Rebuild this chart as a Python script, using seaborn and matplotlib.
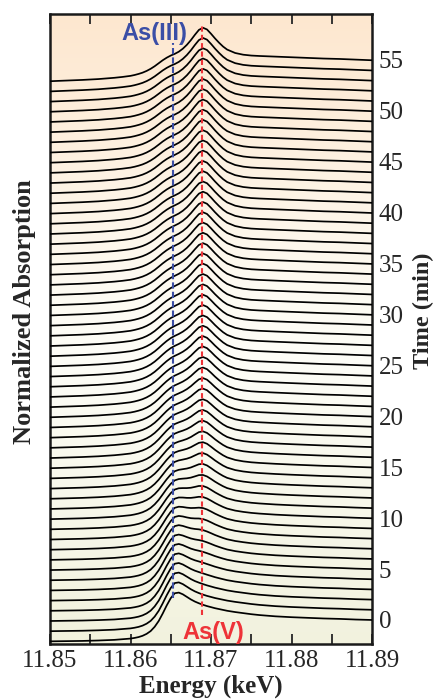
import numpy as np
import pandas as pd
import matplotlib
matplotlib.use("Agg")
import matplotlib.pyplot as plt
import seaborn as sns
from matplotlib.colors import LinearSegmentedColormap
from matplotlib.ticker import FixedLocator, MultipleLocator

# ---------------- data ----------------
energy = [11.850, 11.852, 11.854, 11.856, 11.858, 11.859, 11.860, 11.8605,
          11.861, 11.8615, 11.862, 11.8625, 11.863, 11.8635, 11.864, 11.8645,
          11.865, 11.8655, 11.866, 11.8665, 11.867, 11.8675, 11.868, 11.8685,
          11.869, 11.8695, 11.870, 11.8705, 11.871, 11.8715, 11.872, 11.873,
          11.874, 11.875, 11.876, 11.878, 11.880, 11.882, 11.884, 11.886,
          11.888, 11.890]

# normalized absorption of the first spectrum (As(III)-like)
mu_as3 = [0.00, 0.01, 0.02, 0.04, 0.07, 0.10, 0.13, 0.16,
          0.20, 0.26, 0.35, 0.48, 0.68, 0.95, 1.30, 1.68,
          2.02, 2.25, 2.28, 2.20, 2.08, 1.96, 1.86, 1.78,
          1.71, 1.65, 1.60, 1.55, 1.51, 1.47, 1.43, 1.37,
          1.32, 1.27, 1.23, 1.17, 1.13, 1.10, 1.07, 1.05,
          1.02, 1.00]

# normalized absorption of the last spectrum (As(V)-like)
mu_as5 = [0.00, 0.03, 0.06, 0.10, 0.16, 0.20, 0.25, 0.29,
          0.34, 0.40, 0.48, 0.58, 0.70, 0.84, 0.98, 1.10,
          1.20, 1.28, 1.38, 1.52, 1.70, 1.92, 2.17, 2.40,
          2.50, 2.42, 2.22, 2.00, 1.80, 1.62, 1.48, 1.32,
          1.24, 1.20, 1.18, 1.15, 1.12, 1.09, 1.06, 1.04,
          1.01, 0.98]

time_min = list(range(56))
# fraction of As(V) in each spectrum, estimated per minute
frac_as5 = [0.00, 0.00, 0.02, 0.05, 0.08, 0.12, 0.16, 0.20, 0.25, 0.30,
            0.35, 0.40, 0.45, 0.50, 0.54, 0.58, 0.62, 0.65, 0.68, 0.71,
            0.74, 0.76, 0.78, 0.80, 0.82, 0.83, 0.84, 0.85, 0.86, 0.87,
            0.88, 0.89, 0.90, 0.90, 0.91, 0.92, 0.92, 0.93, 0.93, 0.94,
            0.94, 0.95, 0.95, 0.96, 0.96, 0.96, 0.97, 0.97, 0.97, 0.98,
            0.98, 0.98, 0.99, 0.99, 1.00, 1.00]

time_ticks = [0, 5, 10, 15, 20, 25, 30, 35, 40, 45, 50, 55]
energy_ticks = [11.85, 11.86, 11.87, 11.88, 11.89]
as3_energy = 11.8653
as5_energy = 11.8689

# ---------------- build long table ----------------
rows = []
for t, a in zip(time_min, frac_as5):
    for e, m3, m5 in zip(energy, mu_as3, mu_as5):
        rows.append({"energy": e, "time": t, "mu": (1 - a) * m3 + a * m5})
df = pd.DataFrame(rows)
STEP = 2.1  # vertical size of one absorption unit, in minutes
df["y"] = df["time"] - STEP + STEP * df["mu"]

# ---------------- figure ----------------
sns.set_style("ticks")
plt.rcParams["font.family"] = ["Liberation Serif", "DejaVu Serif"]

W, H = 436, 699
fig = plt.figure(figsize=(W / 100, H / 100), dpi=100)
ax = fig.add_axes([50 / W, 1 - 644 / H, 322 / W, 630 / H])
xmin, xmax = 11.85, 11.89
ymin, ymax = -2.36, 59.5
ax.set_xlim(xmin, xmax)
ax.set_ylim(ymin, ymax)

# background gradient
cmap = LinearSegmentedColormap.from_list(
    "bg", [(0.0, "#f2f2de"), (0.45, "#fdfdf7"), (0.55, "#fefbf3"), (1.0, "#fde7cf")])
grad = np.linspace(0, 1, 256).reshape(-1, 1)
ax.imshow(grad, extent=[xmin, xmax, ymin, ymax], origin="lower",
          aspect="auto", cmap=cmap, zorder=0)

sns.lineplot(data=df, x="energy", y="y", units="time", estimator=None,
             color="black", linewidth=1.25, sort=False, legend=False, ax=ax,
             zorder=3)

# reference lines
ax.vlines(as3_energy, 2.2, 56.7, colors="#3b4ea6", linestyles=(0, (3, 1.5)),
          linewidth=1.5, zorder=4)
ax.vlines(as5_energy, 0.5, 58.3, colors="#ee3338", linestyles=(0, (2.5, 1.5)),
          linewidth=1.5, zorder=4)
ax.text(11.8630, 57.6, "As(III)", color="#3b4ea6", fontsize=17,
        fontweight="bold", family=["Liberation Sans"], ha="center",
        va="center", zorder=5)
ax.text(11.8703, -1.2, "As(V)", color="#ee3338", fontsize=17,
        fontweight="bold", family=["Liberation Sans"], ha="center",
        va="center", zorder=5)

# axes styling
ax.xaxis.set_major_locator(FixedLocator(energy_ticks))
ax.xaxis.set_minor_locator(MultipleLocator(0.005))
ax.set_xticklabels([f"{v:.2f}" for v in energy_ticks], fontsize=18)
ax.tick_params(axis="x", which="both", direction="in", length=7, width=1.3,
               top=True, bottom=True, pad=4)
ax.yaxis.tick_right()
ax.set_yticks(time_ticks)
ax.set_yticklabels([str(v) for v in time_ticks], fontsize=18)
ax.tick_params(axis="y", which="both", length=0, pad=5, left=False, right=True)
for s in ax.spines.values():
    s.set_visible(True)
    s.set_linewidth(1.8)
    s.set_color("#1a1a1a")

ax.set_xlabel("Energy (keV)", fontsize=18, fontweight="bold", labelpad=2)
ax.set_ylabel("")
fig.text(423 / W, 1 - 311 / H, "Time (min)", rotation=90,
         fontsize=17.5, fontweight="bold", ha="center", va="center")
fig.text(25 / W, 1 - 312 / H, "Normalized Absorption", rotation=90,
         fontsize=19, fontweight="bold", ha="center", va="center")

fig.savefig("out.png", dpi=100)
